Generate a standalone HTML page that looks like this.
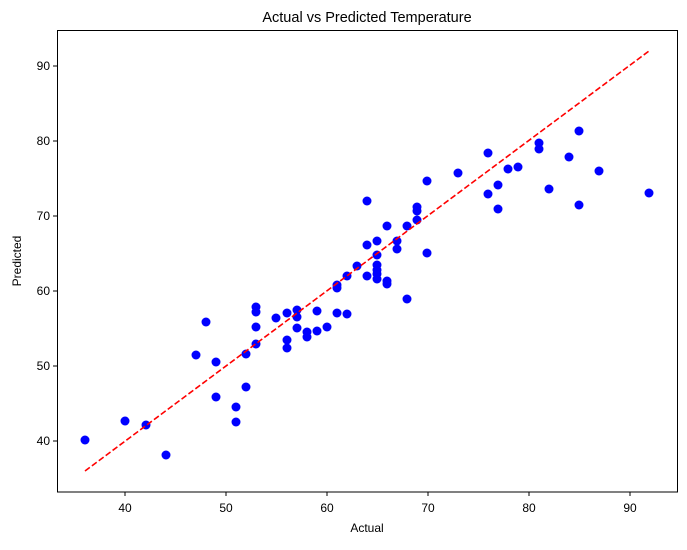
<!DOCTYPE html>
<html><head><style>body{margin:0;background:#fff}svg{font-family:"Liberation Sans",sans-serif}</style></head><body>
<svg width="687" height="545" viewBox="0 0 687 545">
<rect width="687" height="545" fill="#fff"/>
<text x="367" y="22" font-size="14.5" text-anchor="middle">Actual vs Predicted Temperature</text>
<g fill="#0000ff">
<circle cx="85" cy="440" r="4.5"/><circle cx="125" cy="421" r="4.5"/><circle cx="146" cy="425" r="4.5"/><circle cx="166" cy="455" r="4.5"/><circle cx="196" cy="355" r="4.5"/><circle cx="206" cy="322" r="4.5"/><circle cx="216" cy="362" r="4.5"/><circle cx="216" cy="397" r="4.5"/><circle cx="236" cy="407" r="4.5"/><circle cx="236" cy="422" r="4.5"/><circle cx="246" cy="354" r="4.5"/><circle cx="246" cy="387" r="4.5"/><circle cx="256" cy="312" r="4.5"/><circle cx="256" cy="327" r="4.5"/><circle cx="256" cy="307" r="4.5"/><circle cx="256" cy="344" r="4.5"/><circle cx="276" cy="318" r="4.5"/><circle cx="287" cy="313" r="4.5"/><circle cx="287" cy="348" r="4.5"/><circle cx="287" cy="340" r="4.5"/><circle cx="297" cy="317" r="4.5"/><circle cx="297" cy="310" r="4.5"/><circle cx="297" cy="328" r="4.5"/><circle cx="307" cy="332" r="4.5"/><circle cx="307" cy="337" r="4.5"/><circle cx="317" cy="311" r="4.5"/><circle cx="317" cy="331" r="4.5"/><circle cx="327" cy="327" r="4.5"/><circle cx="337" cy="313" r="4.5"/><circle cx="337" cy="288" r="4.5"/><circle cx="337" cy="285" r="4.5"/><circle cx="347" cy="276" r="4.5"/><circle cx="347" cy="314" r="4.5"/><circle cx="357" cy="266" r="4.5"/><circle cx="367" cy="201" r="4.5"/><circle cx="367" cy="245" r="4.5"/><circle cx="367" cy="276" r="4.5"/><circle cx="377" cy="241" r="4.5"/><circle cx="377" cy="255" r="4.5"/><circle cx="377" cy="265" r="4.5"/><circle cx="377" cy="270" r="4.5"/><circle cx="377" cy="274" r="4.5"/><circle cx="377" cy="279" r="4.5"/><circle cx="387" cy="226" r="4.5"/><circle cx="387" cy="281" r="4.5"/><circle cx="387" cy="284" r="4.5"/><circle cx="397" cy="241" r="4.5"/><circle cx="397" cy="249" r="4.5"/><circle cx="407" cy="299" r="4.5"/><circle cx="407" cy="226" r="4.5"/><circle cx="417" cy="207" r="4.5"/><circle cx="417" cy="211" r="4.5"/><circle cx="417" cy="220" r="4.5"/><circle cx="427" cy="181" r="4.5"/><circle cx="427" cy="253" r="4.5"/><circle cx="458" cy="173" r="4.5"/><circle cx="488" cy="153" r="4.5"/><circle cx="488" cy="194" r="4.5"/><circle cx="498" cy="185" r="4.5"/><circle cx="498" cy="209" r="4.5"/><circle cx="508" cy="169" r="4.5"/><circle cx="518" cy="167" r="4.5"/><circle cx="539" cy="143" r="4.5"/><circle cx="539" cy="149" r="4.5"/><circle cx="549" cy="189" r="4.5"/><circle cx="569" cy="157" r="4.5"/><circle cx="579" cy="131" r="4.5"/><circle cx="579" cy="205" r="4.5"/><circle cx="599" cy="171" r="4.5"/><circle cx="649" cy="193" r="4.5"/>
</g>
<line x1="85" y1="471" x2="649" y2="51" stroke="#ff0000" stroke-width="1.6" stroke-dasharray="6,2.6"/>
<rect x="57.5" y="30.5" width="620" height="461.5" fill="none" stroke="#000" stroke-width="1"/>
<g stroke="#000">
<line x1="125" y1="492" x2="125" y2="496"/><line x1="226" y1="492" x2="226" y2="496"/><line x1="327" y1="492" x2="327" y2="496"/><line x1="428" y1="492" x2="428" y2="496"/><line x1="529" y1="492" x2="529" y2="496"/><line x1="630" y1="492" x2="630" y2="496"/>
<line x1="53" y1="441" x2="57" y2="441"/><line x1="53" y1="366" x2="57" y2="366"/><line x1="53" y1="291" x2="57" y2="291"/><line x1="53" y1="216" x2="57" y2="216"/><line x1="53" y1="141" x2="57" y2="141"/><line x1="53" y1="66" x2="57" y2="66"/>
</g>
<g font-size="12" text-anchor="middle">
<text x="125" y="512">40</text><text x="226" y="512">50</text><text x="327" y="512">60</text><text x="428" y="512">70</text><text x="529" y="512">80</text><text x="630" y="512">90</text>
</g>
<g font-size="12" text-anchor="end">
<text x="50" y="445">40</text><text x="50" y="370">50</text><text x="50" y="295">60</text><text x="50" y="220">70</text><text x="50" y="145">80</text><text x="50" y="70">90</text>
</g>
<text x="367" y="532" font-size="12" text-anchor="middle">Actual</text>
<text transform="translate(21,261) rotate(-90)" font-size="12" text-anchor="middle">Predicted</text>
</svg>
</body></html>
